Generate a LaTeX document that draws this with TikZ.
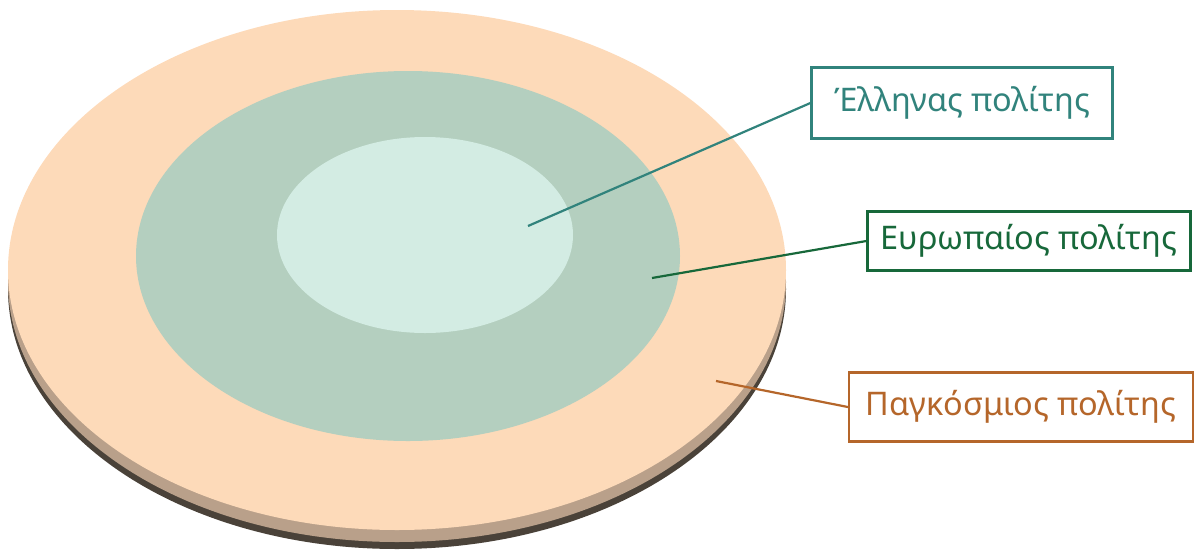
\documentclass[tikz,border=0pt]{standalone}
\usepackage{fontspec}
\setmainfont{Noto Sans}
\definecolor{peach}{HTML}{FDDAB9}
\definecolor{tanrim}{HTML}{B9A08A}
\definecolor{darkrim}{HTML}{4A4239}
\definecolor{midgreen}{HTML}{B4CFBF}
\definecolor{palegreen}{HTML}{D3ECE3}
\definecolor{helcol}{HTML}{31837C}
\definecolor{eurcol}{HTML}{17683A}
\definecolor{globcol}{HTML}{B5662A}
\tikzset{
    tag/.style={draw=#1, text=#1, line width=2.2pt, fill=white, inner sep=0pt,
        font=\fontsize{32.5}{38}\selectfont},
    lead/.style={draw=#1, line width=2.2pt}
}
\begin{document}
\begin{tikzpicture}[x=1pt,y=-1pt]
    \useasboundingbox (0,0) rectangle (1195,550);
    % the disc
    \fill[darkrim] (397,289) ellipse (389 and 260);
    \fill[tanrim] (397,282) ellipse (389 and 260);
    \fill[peach] (397,270) ellipse (389 and 260);
    \fill[midgreen] (408,256) ellipse (272 and 185);
    \fill[palegreen] (425,235) ellipse (148 and 98);
    % labels
    \node[tag=helcol, minimum width=301pt, minimum height=71pt] (hel) at (962,103) {Έλληνας πολίτης};
    \node[tag=eurcol, minimum width=323pt, minimum height=59pt] (eur) at (1029,241) {Ευρωπαίος πολίτης};
    \node[tag=globcol, minimum width=344pt, minimum height=69pt] (glob) at (1021,407) {Παγκόσμιος πολίτης};
    % leaders
    \coordinate (help) at (528,226);
    \coordinate (eurp) at (652,278);
    \coordinate (globp) at (716,381);
    \draw[lead=helcol] (help) -- (hel.west);
    \draw[lead=eurcol] (eurp) -- (eur.west);
    \draw[lead=globcol] (globp) -- (glob.west);
\end{tikzpicture}
\end{document}
